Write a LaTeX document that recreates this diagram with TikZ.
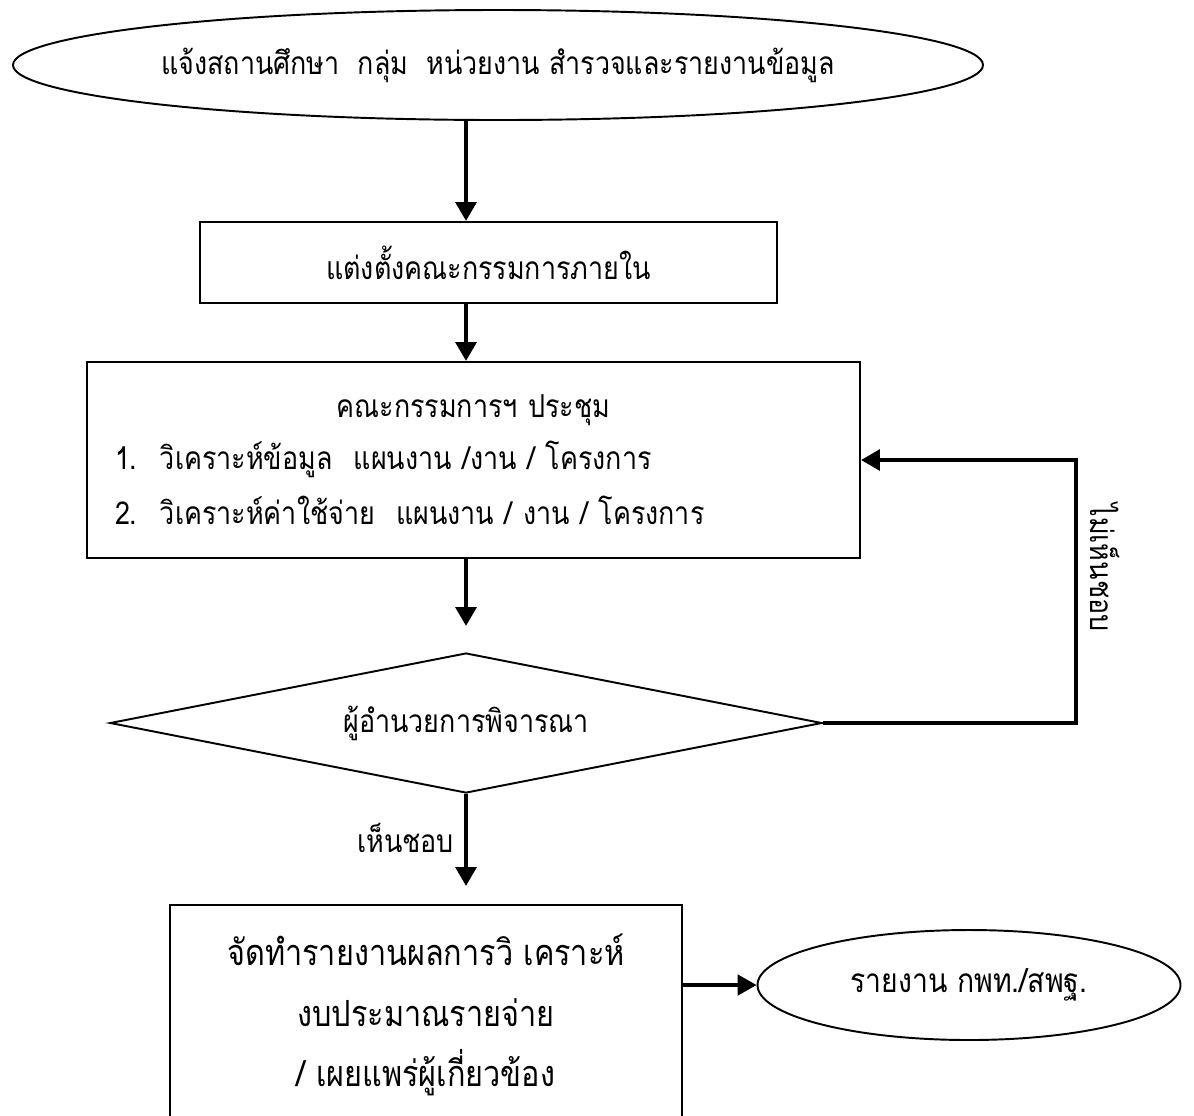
\documentclass[tikz,border=0pt]{standalone}
\usepackage{fontspec}
\setmainfont[Script=Thai,FakeStretch=0.85]{Loma}
\usetikzlibrary{shapes.geometric,arrows.meta}

\begin{document}
\begin{tikzpicture}[>={Triangle[length=0.38cm,width=0.41cm]},font=\fontsize{18}{21}\selectfont,
	box/.style={draw,line width=1.1pt,rectangle,inner sep=0pt},
	oval/.style={draw,line width=1.1pt,ellipse,inner sep=0pt},
	decision/.style={draw,line width=1.1pt,diamond,aspect=5,inner sep=0pt},
	flow/.style={->,line width=2.6pt}]
	\useasboundingbox (0,0) rectangle (23.88,-22.3);
	\clip (0,0) rectangle (23.88,-22.3);
	\node [oval, minimum width=19.4cm, minimum height=2.2cm] (A) at (9.96,-1.3) {แจ้งสถานศึกษา\ \ กลุ่ม\ \ หน่วยงาน สำรวจและรายงานข้อมูล};
	\node [box, minimum width=11.54cm, minimum height=1.62cm] (B) [below of = A, node distance=3.95cm, xshift=-0.19cm] {แต่งตั้งคณะกรรมการภายใน};
	\node [box, minimum width=15.46cm, minimum height=3.92cm, inner xsep=0.56cm, text width=14.34cm, align=left] (C) [below of = B, node distance=3.95cm, xshift=-0.3cm]
		{\makebox[14.34cm]{คณะกรรมการฯ ประชุม}\\[0.3cm]
		 \makebox[0.9cm][l]{1.}วิเคราะห์ข้อมูล\ \ แผนงาน /งาน / โครงการ\\[0.36cm]
		 \makebox[0.9cm][l]{2.}วิเคราะห์ค่าใช้จ่าย\ \ แผนงาน / งาน / โครงการ};
	\node [decision, minimum width=14.24cm, minimum height=2.8cm] (D) [below of = C, node distance=5.26cm, xshift=-0.15cm] {ผู้อำนวยการพิจารณา};
	\node [box, minimum width=10.24cm, minimum height=4.4cm, align=center, font=\fontsize{20.5}{24}\selectfont] (E) [below of = D, node distance=5.84cm, xshift=-0.8cm]
		{จัดทำรายงานผลการวิ เคราะห์\\[0.36cm] งบประมาณรายจ่าย\\[0.36cm] / เผยแพร่ผู้เกี่ยวข้อง};
	\node [oval, minimum width=8.46cm, minimum height=2.2cm, font=\fontsize{19}{22}\selectfont] (F) [right of = E, node distance=10.86cm, yshift=0.6cm] {รายงาน กพท./สพฐ.};
	\node [rotate=-90] (G) at (22.1,-11.35) {ไม่เห็นชอบ};

	\draw [flow] (A.south -| D.north) -- (B.north -| D.north);
	\draw [flow] (B.south -| D.north) -- (C.north -| D.north);
	\draw [flow, shorten >=0.52cm] (C.south -| D.north) -- (D.north);
	\draw [flow, shorten >=0.36cm] (D.south) -- node [left=0.08cm, pos=0.4] {เห็นชอบ} (E.north -| D.south);
	\draw [flow] (D.east) -- ++(5.06,0) |- (C.east);
	\draw [flow, line width=2pt] (F.west -| E.east) -- (F.west);
\end{tikzpicture}
\end{document}
